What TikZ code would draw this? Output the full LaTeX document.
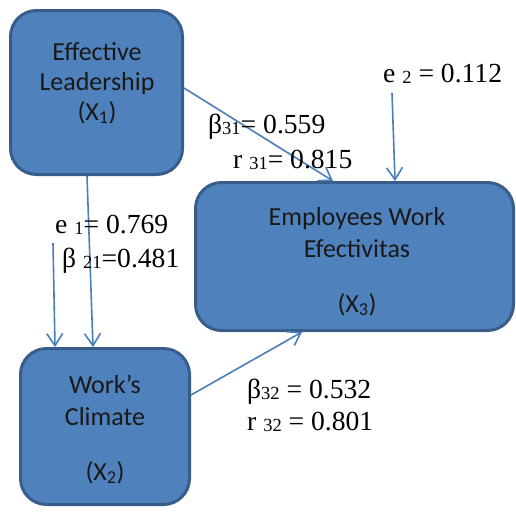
\documentclass[tikz,border=0pt]{standalone}
\usepackage{fontspec}
\setmainfont{Liberation Serif}
\newfontfamily\boxfont{Carlito}
\usetikzlibrary{arrows.meta}
\definecolor{boxfill}{HTML}{4F81BD}
\definecolor{boxline}{HTML}{385D8A}
\definecolor{arr}{HTML}{4A7EBB}
\newcommand\lsub[1]{\raisebox{-1.5pt}{\fontsize{18.5}{18.5}\selectfont #1}}
\tikzset{
  varbox/.style={draw=boxline, fill=boxfill, line width=3pt, rounded corners=26pt, inner sep=0pt},
  boxtext/.style={anchor=base, inner sep=0pt, font=\boxfont\fontsize{26}{30}\selectfont, text=black!90},
  lbl/.style={anchor=base west, inner sep=0pt, font=\fontsize{27.6}{30}\selectfont, text=black},
  conn/.style={draw=arr, line width=1.6pt, -{Straight Barb[length=12pt,width=16pt,line width=1.6pt]}}
}
\begin{document}
\begin{tikzpicture}[x=1pt,y=-1pt]
\useasboundingbox (0,0) rectangle (516,512);
% boxes
\node[varbox, minimum width=172pt, minimum height=164pt] (x1) at (96.5,92.5) {};
\node[varbox, minimum width=318pt, minimum height=148pt] (x3) at (354.5,256.5) {};
\node[varbox, minimum width=169pt, minimum height=156pt] (x2) at (105,426.5) {};
% box texts
\node[boxtext] (x1a) at (97,60) {Effective};
\node[boxtext] (x1b) at (97,90) {Leadership};
\node[boxtext] (x1c) at (97,120) {(X\textsubscript{1})};
\node[boxtext] (x3a) at (357,225) {Employees Work};
\node[boxtext] (x3b) at (357,257) {Efectivitas};
\node[boxtext] (x3c) at (357,312) {(X\textsubscript{3})};
\node[boxtext] (x2a) at (105,393) {Work’s};
\node[boxtext] (x2b) at (105,425) {Climate};
\node[boxtext] (x2c) at (105,480) {(X\textsubscript{2})};
% free ends
\coordinate (e2s) at (392,93);
\coordinate (e1s) at (53,243);
% connectors
\draw[conn] ([yshift=4.5pt]x1.east) -- ([xshift=-21.5pt]x3.north);
\draw[conn] (e2s) -- ([xshift=40.5pt]x3.north);
\draw[conn] ([xshift=-9.5pt]x1.south) -- ([xshift=-12pt]x2.north);
\draw[conn] (e1s) -- ([xshift=-50pt]x2.north);
\draw[conn] ([yshift=31.5pt]x2.east) -- ([xshift=-52.5pt]x3.south);
% labels
\node[lbl] (b31) at (208,133) {β\lsub{31}= 0.559};
\node[lbl] (r31) at (233,168) {r \lsub{31}= 0.815};
\node[lbl] (e2) at (383,82) {e \lsub{2} = 0.112};
\node[lbl] (e1) at (55,233) {e \lsub{1}= 0.769};
\node[lbl] (b21) at (62,267) {β \lsub{21}=0.481};
\node[lbl] (b32) at (247,398) {β\lsub{32} = 0.532};
\node[lbl] (r32) at (247,430) {r \lsub{32} = 0.801};
\end{tikzpicture}
\end{document}
